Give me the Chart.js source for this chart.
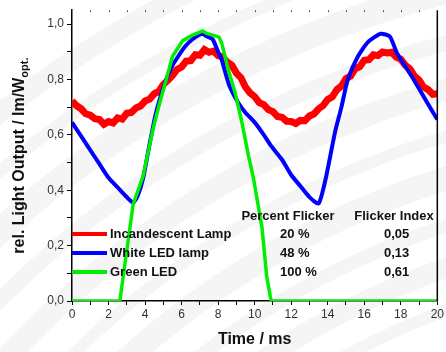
<!DOCTYPE html>
<html><head><meta charset="utf-8">
<script src="https://cdn.jsdelivr.net/npm/chart.js@4/dist/chart.umd.min.js"></script>
<style>html,body{margin:0;padding:0;background:#fff}#wrap{width:446px;height:352px}</style>
</head><body><div id="wrap"><canvas id="c" width="446" height="352"></canvas></div>
<script>
// ---- data ----
const redTime = [0,0.25,0.5,0.75,1,1.25,1.5,1.75,2,2.25,2.5,2.75,3,3.25,3.5,3.75,4,4.25,4.5,4.75,5,5.25,5.5,5.75,6,6.25,6.5,6.75,7,7.25,7.5,7.75,8,8.25,8.5,8.75,9,9.25,9.5,9.75,10,10.25,10.5,10.75,11,11.25,11.5,11.75,12,12.25,12.5,12.75,13,13.25,13.5,13.75,14,14.25,14.5,14.75,15,15.25,15.5,15.75,16,16.25,16.5,16.75,17,17.25,17.5,17.75,18,18.25,18.5,18.75,19,19.25,19.5,19.75,20];
const redValues = [0.722,0.705,0.694,0.676,0.671,0.658,0.655,0.638,0.648,0.643,0.661,0.657,0.678,0.681,0.697,0.704,0.722,0.729,0.748,0.757,0.782,0.797,0.814,0.836,0.845,0.866,0.868,0.889,0.887,0.908,0.898,0.902,0.886,0.881,0.862,0.851,0.823,0.806,0.772,0.751,0.738,0.716,0.709,0.691,0.684,0.666,0.663,0.649,0.648,0.641,0.652,0.651,0.668,0.676,0.694,0.706,0.728,0.737,0.763,0.776,0.803,0.812,0.838,0.846,0.869,0.871,0.889,0.886,0.899,0.896,0.898,0.881,0.873,0.851,0.838,0.812,0.798,0.772,0.763,0.746,0.748];
const blueTime = [0,0.5,1,1.5,2,2.5,3,3.35,3.6,3.9,4.2,4.6,5.16,5.5,5.88,6.2,6.6,7.1,7.4,7.7,8,8.2,8.6,9.1,9.5,10,10.5,10.9,11.5,12,12.5,13,13.5,13.9,14.4,14.75,15.1,15.65,16.2,16.9,17.4,17.8,18.7,19.45,20];
const blueValues = [0.645,0.595,0.545,0.495,0.445,0.41,0.375,0.355,0.38,0.445,0.55,0.68,0.80,0.85,0.89,0.92,0.945,0.965,0.955,0.945,0.90,0.87,0.78,0.716,0.68,0.645,0.60,0.56,0.51,0.455,0.415,0.375,0.352,0.445,0.61,0.70,0.80,0.883,0.935,0.965,0.955,0.894,0.80,0.716,0.655];
const greenTime = [0,2.62,2.9,3.35,3.89,4.43,4.8,5.16,5.5,6.06,6.6,7.15,7.4,7.7,8.05,8.2,8.58,8.94,9.3,9.66,9.93,10.4,10.66,10.9,20];
const greenValues = [0,0,0.135,0.35,0.45,0.62,0.716,0.80,0.883,0.94,0.96,0.975,0.965,0.96,0.953,0.93,0.83,0.75,0.645,0.525,0.445,0.266,0.088,0,0];
const seriesNames = ["Incandescent Lamp","White LED lamp","Green LED"];
const percentFlicker = ["20 %","48 %","100 %"];
const flickerIndex = ["0,05","0,13","0,61"];
const xTickLabels = ["0","2","4","6","8","10","12","14","16","18","20"];
const yTickLabels = ["0,0","0,2","0,4","0,6","0,8","1,0"];
const colors = ["#ff0000","#0000ff","#00ee00"];

function pts(t,v){return t.map((x,i)=>({x:x,y:v[i]}));}

const bgPlugin = {
  id:'bg',
  beforeDraw(chart){
    const ctx = chart.ctx;
    ctx.save();
    ctx.fillStyle='#fff';ctx.fillRect(0,0,chart.width,chart.height);
    ctx.strokeStyle='rgba(0,0,0,0.04)';
    ctx.lineCap='round';
    const arcs=[[700,1000,1130,20],[700,1000,1085,12],[700,1000,1040,26],[700,1000,990,16],[700,1000,945,22],[700,1000,900,12],[700,1000,860,24],[700,1000,815,14],[700,1000,775,20],[700,1000,735,12]];
    arcs.forEach(a=>{ctx.lineWidth=a[3];ctx.beginPath();ctx.arc(a[0],a[1],a[2],Math.PI*1.0,Math.PI*1.8);ctx.stroke();});
    ctx.restore();
  }
};

const decoPlugin = {
  id:'deco',
  afterDraw(chart){
    const ctx=chart.ctx, a=chart.chartArea, xs=chart.scales.x;
    ctx.save();
    ctx.strokeStyle='#000';ctx.lineWidth=1.5;
    ctx.beginPath();ctx.moveTo(a.right,a.top);ctx.lineTo(a.right,a.bottom);ctx.stroke();
    ctx.lineWidth=1;ctx.strokeStyle='#555';
    for(let t=1;t<20;t++){const px=Math.round(xs.getPixelForValue(t))+0.5;ctx.beginPath();ctx.moveTo(px,a.top);ctx.lineTo(px,a.top+2);ctx.stroke();}
    ctx.fillStyle='#111';
    ctx.font='bold 16px "Liberation Sans", Arial, sans-serif';
    ctx.textAlign='center';ctx.textBaseline='middle';
    ctx.fillText('Time / ms',(a.left+a.right)/2,340);
    ctx.save();
    ctx.translate(18,(a.top+a.bottom)/2);
    ctx.rotate(-Math.PI/2);
    const main='rel. Light Output / lm/W', sub='opt.';
    ctx.font='bold 16px "Liberation Sans", Arial, sans-serif';
    const w1=ctx.measureText(main).width;
    ctx.font='bold 11px "Liberation Sans", Arial, sans-serif';
    const w2=ctx.measureText(sub).width;
    const start=-(w1+w2)/2;
    ctx.textAlign='left';ctx.textBaseline='alphabetic';
    ctx.font='bold 16px "Liberation Sans", Arial, sans-serif';
    ctx.fillText(main,start,6);
    ctx.font='bold 11px "Liberation Sans", Arial, sans-serif';
    ctx.fillText(sub,start+w1,10);
    ctx.restore();
    const rows=[234,253,272];
    ctx.font='bold 13px "Liberation Sans", Arial, sans-serif';
    ctx.textBaseline='middle';
    rows.forEach((y,i)=>{
      ctx.strokeStyle=colors[i];ctx.lineWidth=4;ctx.lineCap='butt';
      ctx.beginPath();ctx.moveTo(a.left,y);ctx.lineTo(a.left+35,y);ctx.stroke();
      ctx.fillStyle='#111';ctx.textAlign='left';
      ctx.fillText(seriesNames[i],a.left+38,y);
      ctx.fillText(percentFlicker[i],280,y);
      ctx.fillText(flickerIndex[i],384,y);
    });
    ctx.textAlign='center';
    ctx.fillText('Percent Flicker',288,216);
    ctx.fillText('Flicker Index',394,216);
    ctx.restore();
  }
};

new Chart(document.getElementById('c'),{
  type:'scatter',
  data:{datasets:[
    {label:seriesNames[0],data:pts(redTime,redValues),showLine:true,borderColor:colors[0],borderWidth:7,pointRadius:0,tension:0,order:3},
    {label:seriesNames[1],data:pts(blueTime,blueValues),showLine:true,borderColor:colors[1],borderWidth:4,pointRadius:0,tension:0.2,order:2},
    {label:seriesNames[2],data:pts(greenTime,greenValues),showLine:true,borderColor:colors[2],borderWidth:3.5,pointRadius:0,tension:0,order:1}
  ]},
  options:{
    responsive:false,animation:false,
    layout:{padding:{left:0,right:6,top:6,bottom:0}},
    plugins:{legend:{display:false},tooltip:{enabled:false}},
    scales:{
      x:{type:'linear',min:0,max:20,
        afterFit(s){s.height=51;},
        border:{display:true,color:'#000',width:1.5},
        grid:{drawOnChartArea:false,drawTicks:true,tickLength:4,color:'#000'},
        ticks:{stepSize:1,autoSkip:false,maxRotation:0,color:'#333',padding:2,font:{size:12,family:'"Liberation Sans", Arial, sans-serif'},
          callback:(v)=>{const i=xTickLabels.indexOf(String(v));return i>=0?xTickLabels[i]:'';}}
      },
      y:{type:'linear',min:0,max:1.05,
        afterFit(s){s.width=72;},
        afterBuildTicks(s){const t=[];for(let i=0;i<=10;i++)t.push({value:i/10});s.ticks=t;},
        border:{display:true,color:'#000',width:1.5},
        grid:{drawOnChartArea:false,drawTicks:true,tickLength:5,color:'#000'},
        ticks:{autoSkip:false,color:'#333',padding:3,font:{size:12,family:'"Liberation Sans", Arial, sans-serif'},
          callback:(v)=>{const k=Math.round(v*10);return k%2===0?yTickLabels[k/2]:'';}}
      }
    }
  },
  plugins:[bgPlugin,decoPlugin]
});
</script></body></html>
